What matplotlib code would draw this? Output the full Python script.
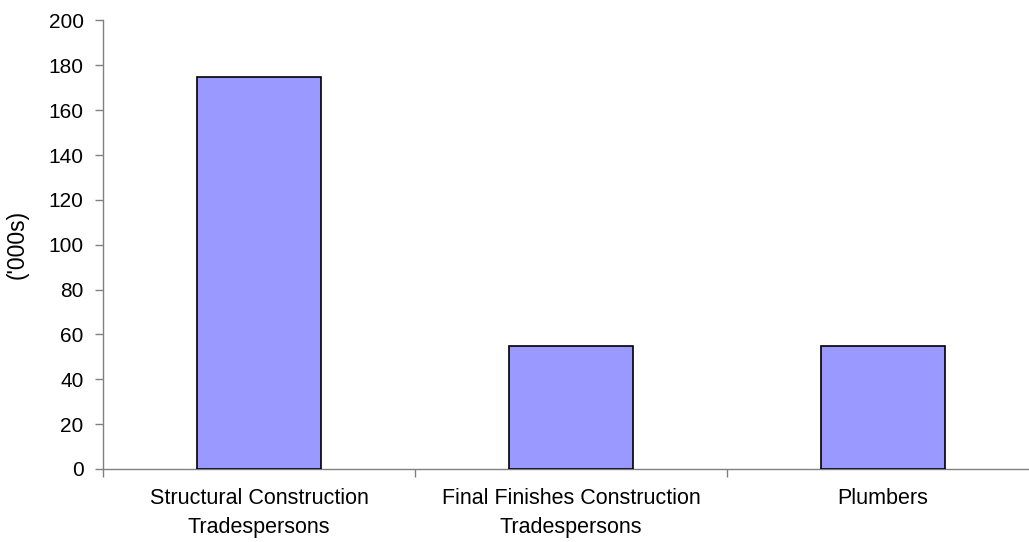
import matplotlib.pyplot as plt
import numpy as np

categories = ["Structural Construction\nTradespersons",
              "Final Finishes Construction\nTradespersons",
              "Plumbers"]
values = [175, 55, 55]
yticks = [0, 20, 40, 60, 80, 100, 120, 140, 160, 180, 200]

plt.rcParams["font.family"] = ["Liberation Sans", "DejaVu Sans"]

fig = plt.figure(figsize=(10.29, 5.42), dpi=100)
ax = fig.add_axes([103 / 1029, 73 / 542, 936 / 1029, 448.5 / 542])

x = np.arange(len(categories))
ax.bar(x, values, width=0.4, color="#9999FF", edgecolor="black", linewidth=1.2, zorder=3)

ax.set_xlim(-0.5, len(categories) - 0.5)
ax.set_ylim(0, 200)
ax.set_yticks(yticks)
ax.tick_params(axis="y", labelsize=15, length=6, width=1, color="#808080", pad=8)

ax.set_xticks(x)
ax.set_xticklabels(categories, fontsize=15.5, linespacing=1.5)
ax.tick_params(axis="x", length=0, pad=14)
ax.set_xticks(np.arange(len(categories) + 1) - 0.5, minor=True)
ax.tick_params(axis="x", which="minor", length=6, width=1, color="#808080")

for side in ["top", "right"]:
    ax.spines[side].set_visible(False)
for side in ["left", "bottom"]:
    ax.spines[side].set_color("#808080")
    ax.spines[side].set_linewidth(1)

ax.set_ylabel("('000s)", fontsize=16.5)
ax.yaxis.set_label_coords(-0.079, 0.5)

fig.savefig("out.png", dpi=100)
plt.close(fig)
